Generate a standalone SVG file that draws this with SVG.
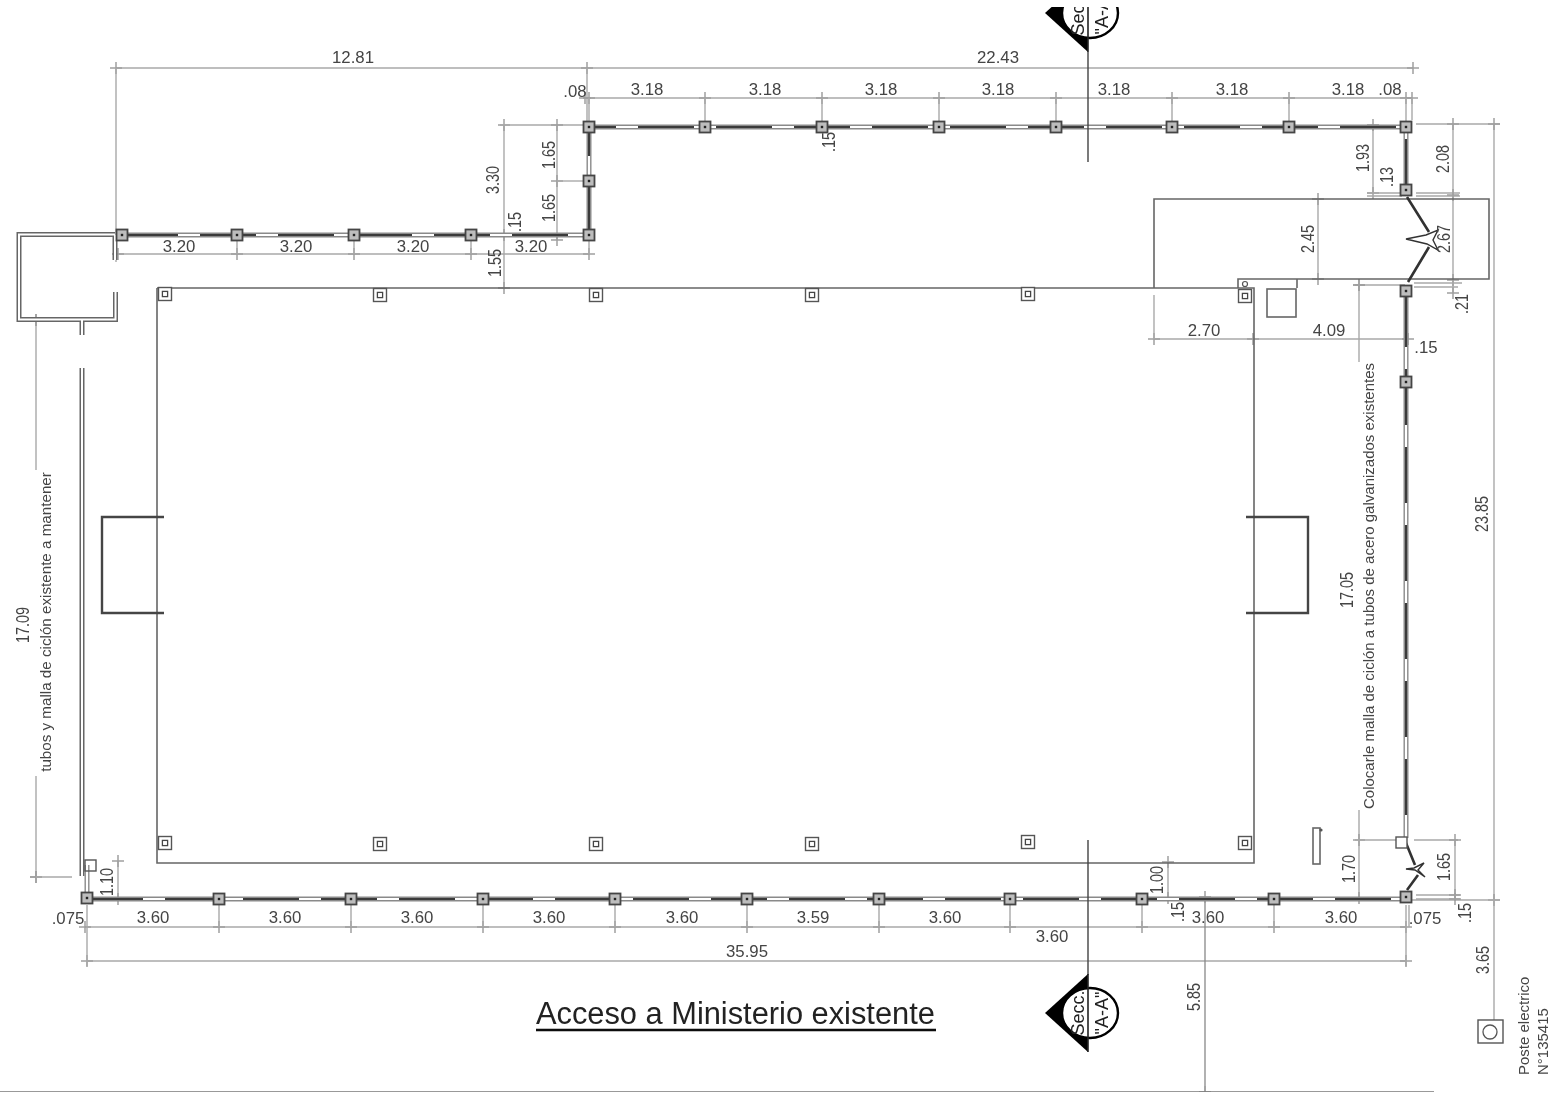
<svg xmlns="http://www.w3.org/2000/svg" width="1554" height="1095" viewBox="0 0 1554 1095">
<style>
text{font-family:"Liberation Sans",Arial,sans-serif;fill:#444;font-size:16.8px}
.c{text-anchor:middle}
.r{text-anchor:middle;font-size:16px}
.s{text-anchor:start;font-size:15px}
.d{fill:none;stroke:#a9a9a9;stroke-width:1.4;marker-start:url(#t);marker-mid:url(#t);marker-end:url(#t)}
.e{fill:none;stroke:#a9a9a9;stroke-width:1.4}
.w{fill:none;stroke:#666;stroke-width:1.6}
.wt{fill:none;stroke:#444;stroke-width:2.4}
.f1{fill:none;stroke:#8a8a8a;stroke-width:5}
.f2{fill:none;stroke:#fff;stroke-width:2.2}
.f3{fill:none;stroke:#3a3a3a;stroke-width:2.2;stroke-dasharray:56 22}
.g{fill:none;stroke:#333;stroke-width:2.6}
.th{fill:#fff;stroke:#333;stroke-width:1.4}
.sec{font-size:18px;fill:#222;text-anchor:middle}
</style>
<defs>
<filter id="soft" x="0" y="0" width="100%" height="100%"><feGaussianBlur stdDeviation="0.45"/></filter>
<marker id="t" markerUnits="userSpaceOnUse" markerWidth="14" markerHeight="14" refX="7" refY="7" viewBox="0 0 14 14" orient="0"><path d="M1 7H13M7 1V13" fill="none" stroke="#a0a0a0" stroke-width="1.5"/></marker>
<g id="post"><rect x="-5.500" y="-5.500" width="11" height="11" fill="#bdbdbd" stroke="#444" stroke-width="1.8"/><rect x="-1.200" y="-1.200" width="2.400" height="2.400" fill="#222"/></g>
<g id="col"><rect x="-6.500" y="-6.500" width="13" height="13" fill="#fff" stroke="#555" stroke-width="1.400"/><rect x="-2.600" y="-2.600" width="5.200" height="5.200" fill="#fff" stroke="#444" stroke-width="1.300"/></g>
<g id="mark">
<path d="M1088 -39L1045 0L1088 39Z" fill="#000"/>
<ellipse cx="1090" cy="0" rx="28" ry="25" fill="#fff" stroke="#000" stroke-width="2.400"/>
<path d="M1088 -39V39" stroke="#222" stroke-width="1.600"/>
<text class="sec" transform="translate(1084,0) rotate(-90)">Secc.</text>
<text class="sec" transform="translate(1108,0) rotate(-90)">"A-A"</text>
</g>
</defs>
<rect width="1554" height="1095" fill="#fff"/>
<g filter="url(#soft)">
<g id="dimensions">
<polyline class="d" points="116,68 587,68 1413,68"/>
<path class="e" d="M116 68V262M587 68V122"/>
<polyline class="d" points="585,98 589,98 705,98 822,98 939,98 1056,98 1172,98 1289,98 1406,98 1412,98"/>
<path class="e" d="M589 98V121M705 98V122M822 98V122M939 98V122M1056 98V122M1172 98V122M1289 98V122M1406 98V121M1412 98V120"/>
<polyline class="d" points="118,254 237,254 354,254 471,254 589,254"/>
<path class="e" d="M237 240V254M354 240V254M471 240V254M589 240V254"/>
<polyline class="d" points="504,125 504,235 504,288"/>
<path class="e" d="M500 125H584"/>
<polyline class="d" points="557,125 557,181 557,240"/>
<path class="e" d="M557 181H583"/>
<polyline class="d" points="1373,125 1373,193"/>
<path class="e" d="M1367 193H1403M1367 196H1402M1416 196H1460M1416 193H1460M1416 124H1500"/>
<polyline class="d" points="1453,124 1453,195 1453,280 1453,293"/>
<path class="e" d="M1414 283H1462M1414 287H1458M1355 285H1405"/>
<polyline class="d" points="1494,124 1494,900"/>
<path class="e" d="M1494 900V1020M1410 900H1500"/>
<polyline class="d" points="1318,199 1318,279"/>
<polyline class="d" points="1154,339 1253,339 1408,339"/>
<path class="e" d="M1154 295V339"/>
<path class="e" d="M1359 285V362M1359 810V840M36 320V470M36 776V877"/>
<polyline class="d" points="1359,285 1359,285"/>
<polyline class="d" points="36,320 36,320"/>
<polyline class="d" points="36,877 36,877"/>
<polyline class="d" points="1359,840 1359,898"/>
<path class="e" d="M1355 840H1396M1414 840H1458M1416 895H1460M1416 899H1460"/>
<polyline class="d" points="1455,840 1455,895 1455,899"/>
<polyline class="d" points="85,927 219,927 351,927 483,927 615,927 747,927 879,927 1010,927 1142,927 1274,927 1406,927"/>
<path class="e" d="M219 905V927M351 905V927M483 905V927M615 905V927M747 905V927M879 905V927M1010 905V927M1142 905V927M1274 905V927"/>
<polyline class="d" points="87,961 1406,961"/>
<path class="e" d="M87 905V966M1406 905V966M1409 905V927"/>
<polyline class="d" points="118,861 118,899"/>
<polyline class="d" points="1168,862 1168,898"/>
<path class="e" d="M36 877H72"/>
<path d="M1205 897V1092" fill="none" stroke="#888" stroke-width="1.3" marker-start="url(#t)" marker-end="url(#t)"/>
</g>

<g id="building">
<path class="w" d="M157 288H1254V863H157V288"/>
<path class="w" d="M1154 288V199H1489V279H1297V288M1238 288V279H1297"/>
<rect class="w" x="1267" y="289" width="29" height="28"/>
<circle cx="1245" cy="284" r="2.500" fill="none" stroke="#555" stroke-width="1.200"/>
<path class="wt" d="M164 517H102V613H164M1246 517H1308V613H1246"/>
<use href="#col" x="165" y="294"/><use href="#col" x="380" y="295"/><use href="#col" x="596" y="295"/><use href="#col" x="812" y="295"/><use href="#col" x="1028" y="294"/><use href="#col" x="1245" y="296"/>
<use href="#col" x="165" y="843"/><use href="#col" x="380" y="844"/><use href="#col" x="596" y="844"/><use href="#col" x="812" y="844"/><use href="#col" x="1028" y="842"/><use href="#col" x="1245" y="843"/>
<rect class="w" x="1313" y="828" width="7" height="36"/>
<circle cx="1321" cy="830" r="1.600" fill="#555"/>
</g>

<g id="existing-left">
<path d="M115 234.500H19V319.500H115.500V292M115 234.500V260M82 320V335M82 368V876" fill="none" stroke="#666" stroke-width="5"/>
<path d="M115 234.500H19V319.500H115.500V292M115 234.500V260M82 320V335M82 368V876" fill="none" stroke="#fff" stroke-width="2"/>
</g>

<g id="fence">
<path class="f1" d="M122 235H589V127H1406V190M1406 291V838M87 865V899H1406"/>
<path class="f2" d="M122 235H589V127H1406V190M1406 291V838M87 865V899H1406"/>
<path class="f3" d="M122 235H589V127H1406V190M1406 291V838M87 899H1406"/>
<path class="g" d="M1407 197L1429 232M1408 282L1429 247M1406 843L1415 865M1407 890L1418 875"/>
<path class="th" d="M1406 239L1426 235L1438 230L1433 240L1438 250L1427 244Z"/>
<path class="th" d="M1406 869L1414 868L1424 863L1418 870L1425 877L1415 870Z"/>
<use href="#post" x="122" y="235"/><use href="#post" x="237" y="235"/><use href="#post" x="354" y="235"/><use href="#post" x="471" y="235"/><use href="#post" x="589" y="235"/><use href="#post" x="589" y="181"/>
<use href="#post" x="589" y="127"/><use href="#post" x="705" y="127"/><use href="#post" x="822" y="127"/><use href="#post" x="939" y="127"/><use href="#post" x="1056" y="127"/><use href="#post" x="1172" y="127"/><use href="#post" x="1289" y="127"/><use href="#post" x="1406" y="127"/>
<use href="#post" x="1406" y="190"/><use href="#post" x="1406" y="291"/><use href="#post" x="1406" y="382"/>
<use href="#post" x="87" y="898"/><use href="#post" x="219" y="899"/><use href="#post" x="351" y="899"/><use href="#post" x="483" y="899"/><use href="#post" x="615" y="899"/><use href="#post" x="747" y="899"/><use href="#post" x="879" y="899"/><use href="#post" x="1010" y="899"/><use href="#post" x="1142" y="899"/><use href="#post" x="1274" y="899"/><use href="#post" x="1406" y="897"/>
<rect x="85" y="860" width="11" height="11" fill="none" stroke="#555" stroke-width="1.400"/>
<rect x="1396" y="837" width="11" height="11" fill="#fff" stroke="#555" stroke-width="1.400"/>
</g>

<g id="section-marks">
<path d="M1088 52V162M1088 840V975" stroke="#444" stroke-width="1.400"/>
<use href="#mark" x="0" y="13"/>
<rect x="1030" y="0" width="100" height="7" fill="#fff"/>
<use href="#mark" x="0" y="1013"/>
</g>

<g id="services">
<path d="M0 1092H1434" stroke="#777" stroke-width="1.600"/>
<rect x="1478" y="1020" width="25" height="23" fill="none" stroke="#555" stroke-width="1.400"/>
<circle cx="1490" cy="1032" r="7" fill="none" stroke="#555" stroke-width="1.300"/>
<path d="M536 1030H936" stroke="#111" stroke-width="2.400"/>
</g>

<g id="labels">
<text class="c" x="353" y="63">12.81</text><text class="c" x="998" y="63">22.43</text>
<text class="c" x="575" y="97">.08</text><text class="c" x="647" y="95">3.18</text><text class="c" x="765" y="95">3.18</text><text class="c" x="881" y="95">3.18</text><text class="c" x="998" y="95">3.18</text><text class="c" x="1114" y="95">3.18</text><text class="c" x="1232" y="95">3.18</text><text class="c" x="1348" y="95">3.18</text><text class="c" x="1390" y="95">.08</text>
<text class="c" x="179" y="252">3.20</text><text class="c" x="296" y="252">3.20</text><text class="c" x="413" y="252">3.20</text><text class="c" x="531" y="252">3.20</text>
<text class="c" x="1204" y="336">2.70</text><text class="c" x="1329" y="336">4.09</text><text class="c" x="1426" y="353">.15</text>
<text class="c" x="68" y="924">.075</text><text class="c" x="153" y="923">3.60</text><text class="c" x="285" y="923">3.60</text><text class="c" x="417" y="923">3.60</text><text class="c" x="549" y="923">3.60</text><text class="c" x="682" y="923">3.60</text><text class="c" x="813" y="923">3.59</text><text class="c" x="945" y="923">3.60</text><text class="c" x="1052" y="942">3.60</text><text class="c" x="1208" y="923">3.60</text><text class="c" x="1341" y="923">3.60</text><text class="c" x="1425" y="924">.075</text>
<text class="c" x="747" y="957">35.95</text>
<text class="r" transform="translate(835,142) rotate(-90) scale(.9,1.15)">.15</text>
<text class="r" transform="translate(499,180) rotate(-90) scale(.9,1.15)">3.30</text>
<text class="r" transform="translate(555,155) rotate(-90) scale(.9,1.15)">1.65</text>
<text class="r" transform="translate(555,208) rotate(-90) scale(.9,1.15)">1.65</text>
<text class="r" transform="translate(501,263) rotate(-90) scale(.9,1.15)">1.55</text>
<text class="r" transform="translate(521,222) rotate(-90) scale(.9,1.15)">.15</text>
<text class="r" transform="translate(1369,158) rotate(-90) scale(.9,1.15)">1.93</text>
<text class="r" transform="translate(1393,177) rotate(-90) scale(.9,1.15)">.13</text>
<text class="r" transform="translate(1449,159) rotate(-90) scale(.9,1.15)">2.08</text>
<text class="r" transform="translate(1314,239) rotate(-90) scale(.9,1.15)">2.45</text>
<text class="r" transform="translate(1450,239) rotate(-90) scale(.9,1.15)">2.67</text>
<text class="r" transform="translate(1468,304) rotate(-90) scale(.9,1.15)">.21</text>
<text class="r" transform="translate(1488,514) rotate(-90) scale(.9,1.15)">23.85</text>
<text class="r" transform="translate(1353,590) rotate(-90) scale(.9,1.15)">17.05</text>
<text class="r" transform="translate(29,625) rotate(-90) scale(.9,1.15)">17.09</text>
<text class="r" transform="translate(113,882) rotate(-90) scale(.9,1.15)">1.10</text>
<text class="r" transform="translate(1163,880) rotate(-90) scale(.9,1.15)">1.00</text>
<text class="r" transform="translate(1355,869) rotate(-90) scale(.9,1.15)">1.70</text>
<text class="r" transform="translate(1450,867) rotate(-90) scale(.9,1.15)">1.65</text>
<text class="r" transform="translate(1184,912) rotate(-90) scale(.9,1.15)">.15</text>
<text class="r" transform="translate(1471,913) rotate(-90) scale(.9,1.15)">.15</text>
<text class="r" transform="translate(1489,960) rotate(-90) scale(.9,1.15)">3.65</text>
<text class="r" transform="translate(1200,997) rotate(-90) scale(.9,1.15)">5.85</text>
<text class="r" style="font-size:15.200px" transform="translate(51,622) rotate(-90)">tubos y malla de ciclón existente a mantener</text>
<text class="r" style="font-size:15px" transform="translate(1374,586) rotate(-90)">Colocarle malla de ciclón a tubos de acero galvanizados existentes</text>
<text class="s" transform="translate(1529,1075) rotate(-90)">Poste  electrico</text>
<text class="s" transform="translate(1548,1075) rotate(-90)">N°135415</text>
<text x="536" y="1024" style="font-size:30.800px;fill:#222">Acceso a Ministerio existente</text>
</g>
</g>
</svg>
